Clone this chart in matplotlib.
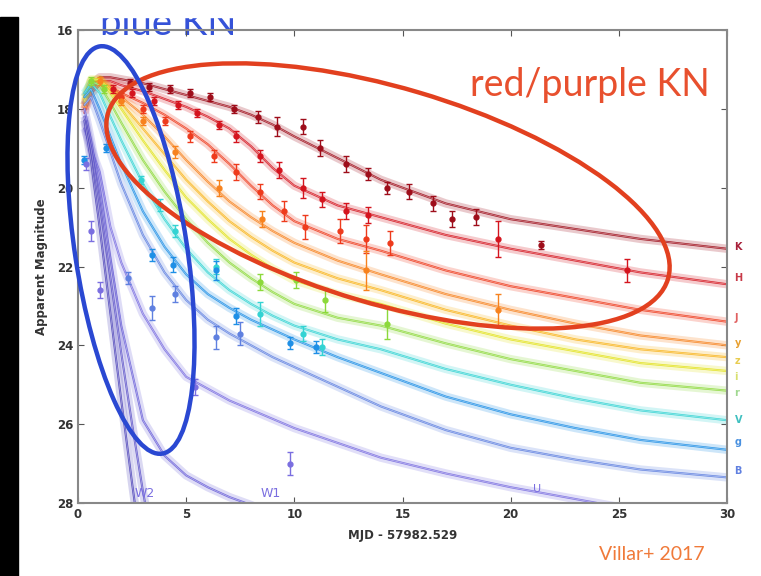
import matplotlib
matplotlib.use('Agg')
import matplotlib.pyplot as plt
from matplotlib.patches import Ellipse, Rectangle

# model light curves (days since merger, apparent mag)
t_model = [0.3, 0.6, 1, 1.5, 2, 3, 4, 5, 6, 7, 8, 9, 10, 12, 14, 17, 20, 23, 26, 30]
mag_K = [17.9, 17.4, 17.2, 17.2, 17.25, 17.35, 17.5, 17.65, 17.8, 17.95, 18.15, 18.4, 18.7, 19.25, 19.8, 20.4, 20.8, 21.05, 21.3, 21.55]
mag_H = [18.0, 17.5, 17.3, 17.3, 17.4, 17.55, 17.75, 17.95, 18.2, 18.5, 18.95, 19.5, 19.95, 20.45, 20.75, 21.2, 21.55, 21.85, 22.15, 22.45]
mag_J = [18.1, 17.6, 17.4, 17.45, 17.6, 17.85, 18.15, 18.5, 18.9, 19.4, 19.95, 20.45, 20.85, 21.3, 21.6, 22.1, 22.5, 22.8, 23.1, 23.4]
mag_y = [18.0, 17.4, 17.3, 17.45, 17.7, 18.15, 18.7, 19.3, 19.85, 20.35, 20.75, 21.1, 21.4, 21.85, 22.2, 22.7, 23.1, 23.45, 23.75, 24.0]
mag_z = [17.9, 17.3, 17.25, 17.5, 17.85, 18.5, 19.15, 19.8, 20.35, 20.85, 21.25, 21.6, 21.9, 22.3, 22.6, 23.1, 23.5, 23.85, 24.1, 24.3]
mag_i = [17.8, 17.25, 17.25, 17.6, 18.0, 18.8, 19.55, 20.25, 20.8, 21.3, 21.7, 22.05, 22.35, 22.7, 22.95, 23.45, 23.85, 24.15, 24.45, 24.65]
mag_r = [17.7, 17.3, 17.4, 17.85, 18.35, 19.3, 20.1, 20.8, 21.4, 21.9, 22.3, 22.65, 22.95, 23.3, 23.5, 23.95, 24.35, 24.65, 24.95, 25.15]
mag_V = [17.6, 17.35, 17.6, 18.2, 18.8, 19.9, 20.8, 21.55, 22.15, 22.6, 22.95, 23.25, 23.5, 23.85, 24.1, 24.6, 25.0, 25.35, 25.65, 25.9]
mag_g = [17.7, 17.5, 18.0, 18.7, 19.4, 20.6, 21.5, 22.2, 22.7, 23.05, 23.35, 23.6, 23.85, 24.3, 24.7, 25.3, 25.75, 26.1, 26.4, 26.65]
mag_B = [17.9, 17.7, 18.3, 19.1, 19.9, 21.2, 22.15, 22.85, 23.35, 23.7, 24.0, 24.3, 24.55, 25.05, 25.55, 26.15, 26.6, 26.9, 27.15, 27.35]

t_U = [0.3, 0.6, 1, 1.5, 2, 3, 4, 5, 7, 10, 14, 17, 20, 23, 26]
mag_U = [18.5, 19.0, 19.6, 21.0, 21.9, 23.2, 24.1, 24.8, 25.4, 26.1, 26.85, 27.25, 27.6, 27.9, 28.2]
t_W1 = [0.3, 0.6, 1, 1.5, 2, 3, 4, 5, 6, 7, 8, 9]
mag_W1 = [18.0, 18.8, 20.0, 21.8, 23.5, 25.9, 26.8, 27.3, 27.6, 27.85, 28.05, 28.3]
t_M2 = [0.3, 0.6, 1.0, 1.5, 2.0, 2.5, 3.0, 3.5]
mag_M2 = [18.2, 19.0, 20.4, 22.3, 24.2, 26.0, 27.7, 29.2]
t_W2 = [0.3, 0.6, 1.0, 1.5, 2.0, 2.5, 3.0]
mag_W2 = [18.3, 19.3, 21.0, 23.2, 25.4, 27.5, 29.5]

# photometry points
obs_K_t = [2.4, 3.3, 4.25, 5.2, 6.1, 7.2, 8.3, 9.2, 10.4, 11.2, 12.4, 13.4, 14.3, 15.3, 16.4, 17.3, 18.4, 21.4]
obs_K_m = [17.35, 17.45, 17.5, 17.6, 17.7, 18.0, 18.2, 18.45, 18.45, 19.0, 19.4, 19.65, 20.0, 20.1, 20.4, 20.8, 20.75, 21.45]
obs_K_e = [0.1, 0.1, 0.1, 0.1, 0.1, 0.1, 0.15, 0.25, 0.2, 0.2, 0.2, 0.15, 0.15, 0.2, 0.2, 0.2, 0.2, 0.1]
obs_H_t = [1.6, 2.5, 3.5, 4.6, 5.5, 6.5, 7.3, 8.4, 9.3, 10.4, 11.3, 12.4, 13.4, 19.4, 25.4]
obs_H_m = [17.5, 17.6, 17.8, 17.9, 18.1, 18.4, 18.7, 19.2, 19.55, 20.0, 20.3, 20.6, 20.7, 21.3, 22.1]
obs_H_e = [0.1, 0.1, 0.1, 0.1, 0.1, 0.1, 0.15, 0.15, 0.2, 0.25, 0.2, 0.2, 0.2, 0.45, 0.3]
obs_J_t = [2.0, 3.0, 4.0, 5.2, 6.3, 7.3, 8.4, 9.5, 10.5, 12.1, 13.3, 14.4]
obs_J_m = [17.7, 18.0, 18.3, 18.7, 19.2, 19.6, 20.1, 20.6, 21.0, 21.1, 21.3, 21.4]
obs_J_e = [0.1, 0.1, 0.1, 0.15, 0.15, 0.2, 0.2, 0.25, 0.3, 0.3, 0.35, 0.3]
obs_y_t = [1.0, 2.0, 3.0, 4.5, 6.5, 8.5, 13.3, 19.4]
obs_y_m = [17.3, 17.8, 18.3, 19.1, 20.0, 20.8, 22.1, 23.1]
obs_y_e = [0.1, 0.1, 0.1, 0.15, 0.2, 0.2, 0.5, 0.4]
obs_r_t = [0.6, 1.2, 8.4, 10.1, 11.4, 14.3]
obs_r_m = [17.3, 17.5, 22.4, 22.35, 22.85, 23.45]
obs_r_e = [0.1, 0.1, 0.2, 0.2, 0.3, 0.4]
obs_V_t = [2.9, 3.8, 4.5, 6.4, 8.4, 10.4, 11.3]
obs_V_m = [19.8, 20.45, 21.1, 22.0, 23.2, 23.7, 24.05]
obs_V_e = [0.1, 0.15, 0.15, 0.2, 0.3, 0.2, 0.2]
obs_g_t = [0.3, 1.3, 3.4, 4.4, 6.4, 7.3, 9.8, 11.0]
obs_g_m = [19.3, 19.0, 21.7, 21.95, 22.1, 23.25, 23.95, 24.05]
obs_g_e = [0.1, 0.1, 0.15, 0.2, 0.25, 0.2, 0.15, 0.15]
obs_B_t = [2.3, 3.4, 4.5, 6.4, 7.5]
obs_B_m = [22.3, 23.05, 22.7, 23.8, 23.7]
obs_B_e = [0.15, 0.3, 0.2, 0.3, 0.3]
obs_U_t = [0.35, 0.6, 1.0, 5.4, 9.8]
obs_U_m = [19.4, 21.1, 22.6, 25.05, 27.0]
obs_U_e = [0.15, 0.25, 0.2, 0.2, 0.3]

band_names = ['K', 'H', 'J', 'y', 'z', 'i', 'r', 'V', 'g', 'B']
band_label_y = [21.5, 22.3, 23.3, 23.95, 24.4, 24.8, 25.2, 25.9, 26.45, 27.2]

colors = {'K': '#9e0d1a', 'H': '#d4141e', 'J': '#ee3a1c', 'y': '#f7821e', 'z': '#f9b41a',
          'i': '#e2e21c', 'r': '#8cd93a', 'V': '#33d3d3', 'g': '#1e8fe6', 'B': '#5f80e0',
          'U': '#7a6ee0', 'W1': '#6a60d8', 'M2': '#5c52c8', 'W2': '#4b42b8'}
label_colors = ['#a8203a', '#c83a48', '#e06060', '#e8a030', '#e8cc50', '#d8e070',
                '#a0d890', '#40c0c0', '#4890e0', '#6080e0']

model_curves = [('K', t_model, mag_K), ('H', t_model, mag_H), ('J', t_model, mag_J),
                ('y', t_model, mag_y), ('z', t_model, mag_z), ('i', t_model, mag_i),
                ('r', t_model, mag_r), ('V', t_model, mag_V), ('g', t_model, mag_g),
                ('B', t_model, mag_B), ('U', t_U, mag_U), ('W1', t_W1, mag_W1),
                ('M2', t_M2, mag_M2), ('W2', t_W2, mag_W2)]
observations = [('K', obs_K_t, obs_K_m, obs_K_e), ('H', obs_H_t, obs_H_m, obs_H_e),
                ('J', obs_J_t, obs_J_m, obs_J_e), ('y', obs_y_t, obs_y_m, obs_y_e),
                ('r', obs_r_t, obs_r_m, obs_r_e), ('V', obs_V_t, obs_V_m, obs_V_e),
                ('g', obs_g_t, obs_g_m, obs_g_e), ('B', obs_B_t, obs_B_m, obs_B_e),
                ('U', obs_U_t, obs_U_m, obs_U_e)]

fig = plt.figure(figsize=(7.61, 5.76), dpi=100)
ax = fig.add_axes([78 / 761, 1 - 503 / 576, (727 - 78) / 761, (503 - 30) / 576])
ax.patch.set_alpha(0)

for band, t, m in model_curves:
    c = colors[band]
    ax.plot(t, m, color=c, lw=6, alpha=0.22, solid_capstyle='butt')
    ax.plot(t, m, color=c, lw=1.5, alpha=0.9)
    ax.plot(t, m, color='white', lw=0.5, alpha=0.5)

for band, t, m, e in observations:
    ax.errorbar(t, m, yerr=e, fmt='o', ms=3.5, color=colors[band], ecolor=colors[band],
                elinewidth=1, capsize=2, zorder=5)

ax.set_xlim(0, 30)
ax.set_ylim(28, 16)
ax.set_xticks([0, 5, 10, 15, 20, 25, 30])
ax.set_yticks([16, 18, 20, 22, 24, 26, 28])
ax.tick_params(direction='in', length=4, top=True, right=True, labelsize=8.5,
               colors='#555555', labelcolor='#333333')
for lbl in ax.get_xticklabels() + ax.get_yticklabels():
    lbl.set_fontweight('bold')
for sp in ax.spines.values():
    sp.set_color('#888888')
    sp.set_linewidth(1.5)
ax.set_xlabel('MJD - 57982.529', fontsize=8.5, fontweight='bold', color='#333333', labelpad=6)
ax.set_ylabel('Apparent Magnitude', fontsize=8.5, fontweight='bold', color='#333333', labelpad=6)

for name, yv, lc in zip(band_names, band_label_y, label_colors):
    ax.text(30.35, yv, name, color=lc, fontsize=7, fontweight='bold', va='center',
            ha='left', clip_on=False)
ax.text(3.1, 27.75, 'W2', color=colors['U'], fontsize=9, ha='center', va='center')
ax.text(8.9, 27.75, 'W1', color=colors['U'], fontsize=9, ha='center', va='center')
ax.text(21.2, 27.65, 'U', color=colors['U'], fontsize=8, ha='center', va='center')

# annotation ellipses in pixel units
px = fig.dpi_scale_trans
fig.add_artist(Ellipse((3.88, (576 - 196) / 100), 5.84, 2.16, angle=-16.5, fill=False,
                       ec='#e2401f', lw=3.2, transform=px, zorder=10))
fig.add_artist(Ellipse((1.31, (576 - 250) / 100), 1.12, 4.12, angle=8.7, fill=False,
                       ec='#2a48d2', lw=3.2, transform=px, zorder=11))

fig.text(168 / 761, 1 - 35 / 576, 'blue KN', color='#3552d8', fontsize=27.5,
         family='Lato', ha='center', va='baseline', zorder=-1)
fig.text(710 / 761, 1 - 96 / 576, 'red/purple KN', color='#e8502e', fontsize=27,
         family='Lato', ha='right', va='baseline', zorder=12)
fig.text(705 / 761, 1 - 560 / 576, 'Villar+ 2017', color='#f07a3a', fontsize=14,
         family='Lato', ha='right', va='baseline')

# screenshot framing: white strip on top, black bar on the left
fig.add_artist(Rectangle((0, 1 - 17 / 576), 1, 17 / 576, transform=fig.transFigure,
                         color='white', zorder=20))
fig.add_artist(Rectangle((0, 0), 18 / 761, 1 - 17 / 576, transform=fig.transFigure,
                         color='black', zorder=20))

fig.savefig('out.png', dpi=100)
